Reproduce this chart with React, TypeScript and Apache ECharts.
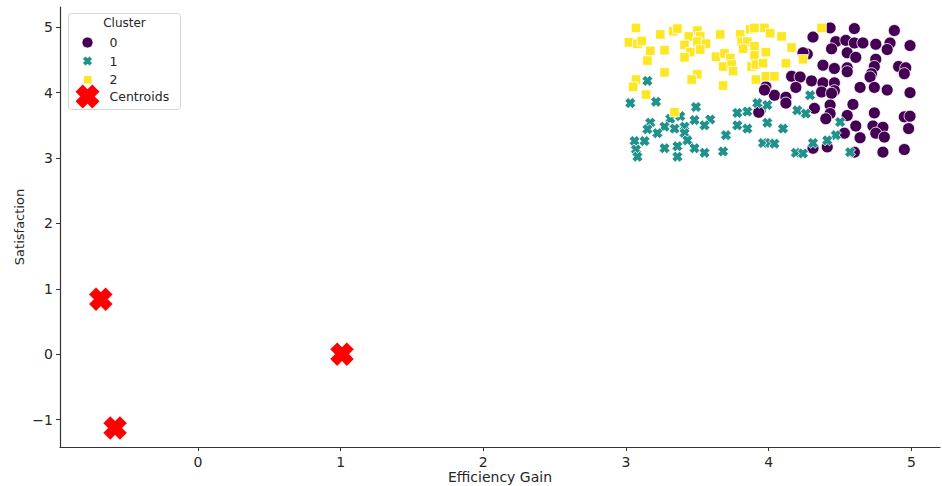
import React, { useEffect, useRef } from "react";
import * as echarts from "echarts";

// Cluster 0 (purple circles): [efficiency gain, satisfaction]
const cluster0: number[][] = [
  [4.43, 4.99], [4.6, 4.98], [4.88, 4.95], [4.31, 4.85], [4.47, 4.78], [4.54, 4.8],
  [4.6, 4.76], [4.66, 4.76], [4.75, 4.74], [4.85, 4.76], [4.99, 4.72], [4.44, 4.67],
  [4.55, 4.61], [4.61, 4.54], [4.83, 4.66], [4.75, 4.51], [4.27, 4.59], [4.24, 4.61],
  [4.38, 4.42], [4.46, 4.37], [4.55, 4.38], [4.74, 4.4], [4.91, 4.4], [4.96, 4.38],
  [4.95, 4.29], [4.72, 4.29], [4.71, 4.24], [4.55, 4.32], [4.16, 4.25], [4.22, 4.24],
  [4.3, 4.18], [4.38, 4.15], [4.46, 4.15], [3.98, 4.09], [4.19, 4.08], [4.37, 4.01],
  [4.46, 4.03], [4.64, 4.08], [4.74, 4.08], [4.83, 4.04], [4.99, 4.0], [4.04, 3.96],
  [4.12, 3.93], [4.12, 3.84], [4.44, 3.99], [4.32, 3.76], [4.43, 3.81], [4.43, 3.68],
  [4.59, 3.82], [4.55, 3.65], [4.4, 3.6], [4.74, 3.69], [4.95, 3.63], [4.99, 3.64],
  [3.94, 3.73], [4.61, 3.49], [4.53, 3.38], [4.73, 3.49], [4.8, 3.47], [4.75, 3.38],
  [4.81, 3.32], [4.98, 3.45], [4.64, 3.31], [4.95, 3.13], [4.8, 3.09], [4.6, 3.09],
  [4.41, 3.17], [4.31, 3.15], [3.97, 4.04], [3.93, 3.7],
];

// Cluster 1 (teal crosses)
const cluster1: number[][] = [
  [3.03, 3.84], [3.15, 4.18], [3.21, 3.86], [3.49, 3.78], [3.31, 3.6], [3.38, 3.64],
  [3.17, 3.54], [3.48, 3.58], [3.59, 3.59], [3.55, 3.5], [3.78, 3.69], [3.85, 3.71],
  [3.92, 3.84], [3.99, 3.81], [3.78, 3.5], [3.85, 3.45], [3.99, 3.54], [3.27, 3.48],
  [3.34, 3.45], [3.41, 3.48], [3.22, 3.38], [3.15, 3.44], [3.41, 3.38], [3.43, 3.27],
  [3.7, 3.35], [3.06, 3.26], [3.13, 3.26], [3.07, 3.13], [3.08, 3.02], [3.27, 3.15],
  [3.36, 3.18], [3.36, 3.02], [3.48, 3.15], [3.55, 3.08], [3.68, 3.1], [3.96, 3.23],
  [4.01, 3.23], [4.29, 3.96], [4.2, 3.73], [4.26, 3.68], [4.1, 3.45], [4.5, 3.55],
  [4.47, 3.35], [4.41, 3.27], [4.31, 3.23], [4.04, 3.22], [4.19, 3.08], [4.24, 3.07],
  [4.57, 3.09],
];

// Cluster 2 (yellow squares)
const cluster2: number[][] = [
  [3.07, 4.99], [3.24, 4.89], [3.33, 4.94], [3.36, 4.98], [3.5, 4.95], [3.66, 4.89],
  [3.8, 4.89], [3.87, 4.97], [3.9, 4.99], [3.97, 4.99], [4.01, 4.91], [3.02, 4.77],
  [3.08, 4.75], [3.11, 4.79], [3.44, 4.86], [3.52, 4.86], [3.5, 4.78], [3.56, 4.75],
  [3.41, 4.73], [3.45, 4.62], [3.52, 4.66], [3.17, 4.64], [3.27, 4.65], [3.15, 4.49],
  [3.41, 4.54], [3.63, 4.55], [3.69, 4.6], [3.73, 4.53], [3.81, 4.78], [3.85, 4.78],
  [3.82, 4.67], [3.9, 4.71], [3.9, 4.57], [3.98, 4.62], [3.68, 4.4], [3.74, 4.43],
  [3.75, 4.33], [3.88, 4.4], [3.91, 4.43], [3.96, 4.45], [3.27, 4.31], [3.5, 4.28],
  [3.46, 4.2], [3.07, 4.2], [3.05, 4.09], [3.68, 4.11], [3.14, 3.97], [3.91, 4.2],
  [3.98, 4.25], [3.34, 3.7], [4.09, 4.86], [4.16, 4.69], [4.12, 4.45], [4.24, 4.51],
  [4.04, 4.25], [4.37, 4.99],
];

// Centroids (red crosses)
const centroids: number[][] = [
  [-0.68, 0.84], [-0.58, -1.13], [1.01, 0.0],
];

const clusterNames = ["0", "1", "2"];
const centroidName = "Centroids";
const legendTitle = "Cluster";
const xTicks = [0, 1, 2, 3, 4, 5];
const yTicks = [-1, 0, 1, 2, 3, 4, 5];
const xName = "Efficiency Gain";
const yName = "Satisfaction";

const COLORS = ["#440154", "#21918c", "#fde725"];
const RED = "#ff0000";
const FONT = "DejaVu Sans";
const TXT = "#262626";

const X_PTS = [
  [3, 0], [5, 2], [7, 0], [10, 3], [8, 5], [10, 7], [7, 10], [5, 8], [3, 10], [0, 7], [2, 5], [0, 3],
];
const X_SYMBOL = "path://M3 0L5 2L7 0L10 3L8 5L10 7L7 10L5 8L3 10L0 7L2 5L0 3Z";

function xPoly(cx: number, cy: number, s: number) {
  return X_PTS.map(([px, py]) => [cx + ((px - 5) * s) / 10, cy + ((py - 5) * s) / 10]);
}

const fmt = (v: number) => (v < 0 ? "\u2212" + Math.abs(v) : String(v));

export default function App() {
  const ref = useRef<HTMLDivElement>(null);
  useEffect(() => {
    if (!ref.current) return;
    const chart = echarts.init(ref.current, undefined, { renderer: "svg" });
    const axisCommon = {
      type: "value" as const,
      nameLocation: "middle" as const,
      nameMoveOverlap: false,
      axisLine: { show: true, onZero: false, lineStyle: { color: "#333", width: 1.2 } },
      splitLine: { show: false },
    };
    const border = { borderColor: "#fff", borderWidth: 0.8, opacity: 1 };
    chart.setOption({
      animation: false,
      backgroundColor: "#fff",
      grid: { left: 60, right: 2, top: 7, bottom: 39, outerBoundsMode: "none" },
      xAxis: {
        ...axisCommon,
        min: -0.966,
        max: 5.2,
        name: xName,
        nameGap: 23,
        nameTextStyle: { fontFamily: FONT, fontSize: 14, color: TXT },
        axisTick: { show: true, customValues: xTicks, length: 4, lineStyle: { color: "#333" } },
        axisLabel: { customValues: xTicks, formatter: fmt, margin: 8, fontFamily: FONT, fontSize: 14, color: TXT },
      },
      yAxis: {
        ...axisCommon,
        min: -1.42,
        max: 5.31,
        name: yName,
        nameGap: 34,
        nameTextStyle: { fontFamily: FONT, fontSize: 13, color: TXT },
        axisTick: { show: true, customValues: yTicks, length: 4, lineStyle: { color: "#333" } },
        axisLabel: { customValues: yTicks, formatter: fmt, margin: 7, fontFamily: FONT, fontSize: 14, color: TXT },
      },
      series: [
        { type: "scatter", name: clusterNames[0], data: cluster0, symbol: "circle", symbolSize: 12, itemStyle: { color: COLORS[0], ...border } },
        { type: "scatter", name: clusterNames[1], data: cluster1, symbol: X_SYMBOL, symbolSize: 11, itemStyle: { color: COLORS[1], ...border } },
        { type: "scatter", name: clusterNames[2], data: cluster2, symbol: "rect", symbolSize: 9.5, itemStyle: { color: COLORS[2], ...border } },
        { type: "scatter", name: centroidName, data: centroids, symbol: X_SYMBOL, symbolSize: 24, itemStyle: { color: RED, borderColor: "#fff", borderWidth: 0.5, opacity: 1 } },
      ],
      graphic: [
        {
          type: "group",
          left: 68,
          top: 13,
          children: [
            { type: "rect", shape: { x: 0, y: 0, width: 112, height: 96, r: 3 }, style: { fill: "rgba(255,255,255,0.85)", stroke: "#d6d6d6", lineWidth: 1 } },
            { type: "text", x: 56, y: 9, style: { text: legendTitle, fontFamily: FONT, fontSize: 12, fill: TXT, align: "center", verticalAlign: "middle" } },
            { type: "circle", shape: { cx: 19, cy: 29, r: 5.5 }, style: { fill: COLORS[0], stroke: "#fff", lineWidth: 0.8 } },
            { type: "text", x: 41, y: 29, style: { text: clusterNames[0], fontFamily: FONT, fontSize: 12.5, fill: TXT, align: "left", verticalAlign: "middle" } },
            { type: "polygon", shape: { points: xPoly(19, 47.5, 10) }, style: { fill: COLORS[1], stroke: "#fff", lineWidth: 0.8 } },
            { type: "text", x: 41, y: 47.5, style: { text: clusterNames[1], fontFamily: FONT, fontSize: 12.5, fill: TXT, align: "left", verticalAlign: "middle" } },
            { type: "rect", shape: { x: 15, y: 62, width: 8.5, height: 8.5 }, style: { fill: COLORS[2], stroke: "#fff", lineWidth: 0.8 } },
            { type: "text", x: 41, y: 66, style: { text: clusterNames[2], fontFamily: FONT, fontSize: 12.5, fill: TXT, align: "left", verticalAlign: "middle" } },
            { type: "polygon", shape: { points: xPoly(19, 83, 24) }, style: { fill: RED } },
            { type: "text", x: 41, y: 83, style: { text: centroidName, fontFamily: FONT, fontSize: 12.5, fill: TXT, align: "left", verticalAlign: "middle" } },
          ],
        },
      ],
    });
    return () => chart.dispose();
  }, []);
  return <div ref={ref} style={{ position: "fixed", left: 0, top: 0, width: 942, height: 486 }} />;
}
